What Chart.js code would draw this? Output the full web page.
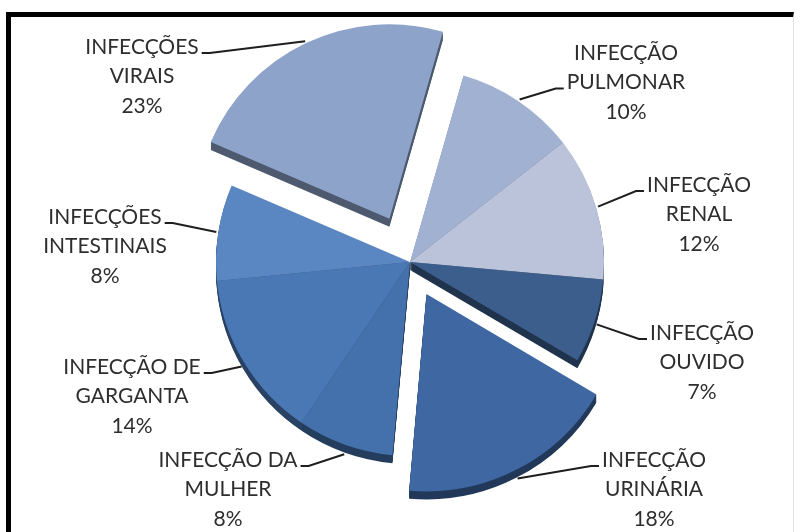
<!DOCTYPE html>
<html>
<head>
<meta charset="utf-8">
<script src="https://cdn.jsdelivr.net/npm/chart.js@4"></script>
<style>
  html, body { margin: 0; padding: 0; background: #fff; }
  #wrap { position: relative; width: 800px; height: 532px; overflow: hidden; }
  #frame {
    position: absolute; left: 6px; top: 12px; width: 782px; height: 530px;
    border-top: 5px solid #000; border-left: 5px solid #000; border-right: 1px solid #e2e2e2;
  }
  canvas { position: absolute; left: 0; top: 0; }
</style>
</head>
<body>
<div id="wrap">
  <div id="frame"></div>
  <canvas id="chart" width="800" height="532"></canvas>
</div>
<script>
  // data, clockwise from the top
  const categories = [
    "INFECÇÃO PULMONAR",
    "INFECÇÃO RENAL",
    "INFECÇÃO OUVIDO",
    "INFECÇÃO URINÁRIA",
    "INFECÇÃO DA MULHER",
    "INFECÇÃO DE GARGANTA",
    "INFECÇÕES INTESTINAIS",
    "INFECÇÕES VIRAIS"
  ];
  const values = [10, 12, 7, 18, 8, 14, 8, 23];

  // looks
  const sliceColors = ["#a0b1d1", "#bbc3da", "#3c5e8c", "#3f68a3", "#4470ab", "#4a78b5", "#5a86c2", "#8ea3c9"];
  const explode = [0, 0, 0, 36, 0, 0, 0, 48];   // pixels the slice is pulled out
  const DEPTH = 8;
  const LINE_H = 29.5;
  // label text centre x, first line y, which line the leader joins
  const labelSpots = [
    [626, 53, 1], [699, 185, 0], [702, 333, 0], [654, 460, 0],
    [228, 460, 0], [132, 367, 0], [105, 217, 0], [142, 47, 0]
  ];

  function darken(hex, f) {
    const n = parseInt(hex.slice(1), 16);
    const r = Math.round(((n >> 16) & 255) * f);
    const g = Math.round(((n >> 8) & 255) * f);
    const b = Math.round((n & 255) * f);
    return `rgb(${r},${g},${b})`;
  }
  const sideColors = sliceColors.map(c => darken(c, 0.55));

  function splitName(name) {
    const k = name.lastIndexOf(" ");
    return [name.slice(0, k), name.slice(k + 1)];
  }

  const depthPlugin = {
    id: "depth",
    beforeDatasetsDraw(chart) {
      const ctx = chart.ctx;
      const arcs = chart.getDatasetMeta(0).data;
      for (let d = DEPTH; d >= 1; d--) {
        ctx.save();
        ctx.translate(0, d);
        arcs.forEach((arc, i) => {
          const side = Object.create(arc);
          side.options = Object.assign({}, arc.options, { backgroundColor: sideColors[i], borderWidth: 0 });
          arc.draw.call(side, ctx);
        });
        ctx.restore();
      }
    }
  };

  const labelPlugin = {
    id: "sliceLabels",
    afterDatasetsDraw(chart) {
      const ctx = chart.ctx;
      const arcs = chart.getDatasetMeta(0).data;
      ctx.save();
      ctx.font = "21px Lato";
      ctx.fillStyle = "#2e2e2e";
      ctx.strokeStyle = "#1e1e1e";
      ctx.lineWidth = 2;
      ctx.textAlign = "center";
      ctx.textBaseline = "middle";
      arcs.forEach((arc, i) => {
        const mid = (arc.startAngle + arc.endAngle) / 2;
        const shift = (arc.options.offset || 0) / 4;
        const fix = 1 - Math.sin(Math.min(Math.PI, arc.circumference));
        const r = arc.outerRadius + shift * fix + 2;
        const ax = arc.x + Math.cos(mid) * (shift + r);
        // lower half: the visible rim is the bottom of the side wall
        const ay = arc.y + Math.sin(mid) * (shift + r) + DEPTH * Math.max(0, Math.sin(mid));
        const [cx, cy, link] = labelSpots[i];
        const lines = [...splitName(categories[i]), values[i] + "%"];
        lines.forEach((t, k) => ctx.fillText(t, cx, cy + k * LINE_H));
        const ly = cy + link * LINE_H + 6;
        const w = ctx.measureText(lines[link]).width;
        const right = cx > arc.x;
        const ex = right ? cx - w / 2 - 3 : cx + w / 2 + 3;
        ctx.beginPath();
        ctx.moveTo(ax, ay);
        ctx.lineTo(ex + (right ? -8 : 8), ly);
        ctx.lineTo(ex, ly);
        ctx.stroke();
      });
      ctx.restore();
    }
  };

  const ctx = document.getElementById("chart").getContext("2d");
  new Chart(ctx, {
    type: "pie",
    data: {
      labels: categories,
      datasets: [{
        data: values,
        backgroundColor: sliceColors,
        borderWidth: 0,
        offset: explode.map(v => v * 4),
        hoverOffset: 0
      }]
    },
    options: {
      responsive: false,
      animation: false,
      rotation: 16,
      radius: 194,
      layout: { padding: { left: 20, right: 0, top: 0, bottom: 8 } },
      plugins: { legend: { display: false }, tooltip: { enabled: false } },
      events: []
    },
    plugins: [depthPlugin, labelPlugin]
  });
</script>
</body>
</html>
